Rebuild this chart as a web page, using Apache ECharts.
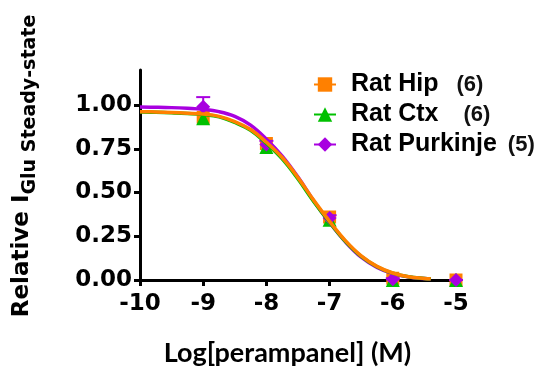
<!DOCTYPE html>
<html><head><meta charset="utf-8">
<script src="https://cdn.jsdelivr.net/npm/echarts@6/dist/echarts.min.js"></script>
<style>html,body{margin:0;padding:0;background:#fff}#c{width:538px;height:374px}</style>
</head><body><div id="c"></div>
<script>
// ---- data ----
const xTicks = [-10, -9, -8, -7, -6, -5];
const yTicks = [0, 0.25, 0.5, 0.75, 1.0];
const seriesNames = ['Rat Hip', 'Rat Ctx', 'Rat Purkinje'];
const nCounts = ['(6)', '(6)', '(5)'];
const doseX = [-9, -8, -7, -6, -5];
const hipVals = [0.93, 0.78, 0.36, 0.01, 0.0];
const ctxVals = [0.925, 0.76, 0.345, 0.0, 0.0];
const purkVals = [0.99, 0.775, 0.355, 0.005, 0.0];
const purkErr = [0.055, 0.02, 0.015, 0.005, 0.0];
const curveX = [-10, -9.75, -9.5, -9.25, -9, -8.75, -8.5, -8.25, -8, -7.75, -7.5, -7.25, -7, -6.75, -6.5, -6.25, -6, -5.75, -5.5, -5.4];
const hipCurve = [0.962, 0.960, 0.957, 0.953, 0.948, 0.935, 0.905, 0.86, 0.787, 0.70, 0.585, 0.455, 0.335, 0.225, 0.138, 0.078, 0.04, 0.019, 0.009, 0.007];
const ctxCurve = [0.960, 0.958, 0.955, 0.951, 0.945, 0.932, 0.90, 0.855, 0.78, 0.692, 0.577, 0.448, 0.33, 0.221, 0.135, 0.076, 0.039, 0.018, 0.009, 0.007];
const purkCurve = [0.988, 0.987, 0.985, 0.981, 0.975, 0.962, 0.935, 0.885, 0.805, 0.708, 0.588, 0.452, 0.328, 0.218, 0.13, 0.072, 0.036, 0.017, 0.008, 0.006];

// ---- style ----
const colors = ['#FF8000', '#00C000', '#A800E0'];
const symbols = ['rect', 'triangle', 'diamond'];
const F = 'DejaVu Sans';
const A = 'Liberation Sans';
const zip = (xs, ys) => xs.map((x, i) => [x, ys[i]]);

const chart = echarts.init(document.getElementById('c'), null, {renderer: 'canvas'});
const curveSets = [hipCurve, ctxCurve, purkCurve];
const pointSets = [hipVals, ctxVals, purkVals];
const series = [];
// curves (first, so legend uses them)
[2, 1, 0].forEach(i => {
  series.push({
    type: 'line', name: seriesNames[i], data: zip(curveX, curveSets[i]),
    smooth: 0.4, showSymbol: false, symbol: symbols[i], symbolSize: 14,
    lineStyle: {color: colors[i], width: 3.5}, itemStyle: {color: colors[i]},
    z: 5 + (2 - i), silent: true, animation: false
  });
});
// error bar (purkinje, upper)
series.push({
  type: 'custom', name: 'Rat Purkinje', z: 3, animation: false, silent: true,
  data: doseX.map((x, i) => [x, purkVals[i], purkVals[i] + purkErr[i]]),
  renderItem: (params, api) => {
    const p0 = api.coord([api.value(0), api.value(1)]);
    const p1 = api.coord([api.value(0), api.value(2)]);
    const st = {stroke: colors[2], lineWidth: 2};
    return {type: 'group', children: [
      {type: 'line', shape: {x1: p0[0], y1: p0[1], x2: p1[0], y2: p1[1]}, style: st},
      {type: 'line', shape: {x1: p1[0] - 7, y1: p1[1], x2: p1[0] + 7, y2: p1[1]}, style: st}
    ]};
  }
});
// points
[0, 1, 2].forEach(i => {
  series.push({
    type: 'scatter', name: seriesNames[i], data: zip(doseX, pointSets[i]),
    symbol: symbols[i], symbolSize: i === 0 ? 13 : 14,
    itemStyle: {color: colors[i], opacity: 1}, z: 2 + i * 0.1, animation: false, silent: true
  });
});

const padL = [18, 25, 11];
const rich = {};
nCounts.forEach((n, i) => { rich['n' + i] = {fontFamily: A, fontWeight: 'bold', fontSize: 22, color: '#111', padding: [0, 0, 0, padL[i]]}; });
rich.t = {fontFamily: A, fontWeight: 'bold', fontSize: 25, color: '#000'};

chart.setOption({
  animation: false,
  grid: {left: 140, right: 82, top: 70, bottom: 94},
  legend: {
    data: seriesNames, left: 308, top: 67, orient: 'vertical', itemGap: 5,
    itemWidth: 22, itemHeight: 18, selectedMode: false,
    textStyle: {rich: rich, padding: [0, 0, 0, 10]},
    formatter: name => { const i = seriesNames.indexOf(name); return '{t|' + name + '}{n' + i + '|' + nCounts[i] + '}'; }
  },
  xAxis: {
    type: 'value', min: -10, max: -5, interval: 1,
    splitLine: {show: false},
    axisLine: {lineStyle: {color: '#000', width: 3}},
    axisTick: {length: 6, lineStyle: {color: '#000', width: 3}, customValues: xTicks},
    axisLabel: {customValues: xTicks, fontFamily: F, fontWeight: 'bold', fontSize: 23, color: '#000', margin: 13},
    name: 'Log[perampanel] (M)', nameLocation: 'middle', nameGap: 60,
    nameTextStyle: {fontFamily: 'Lato', fontWeight: 'bold', fontSize: 27, color: '#000', padding: [0, 21, 0, 0]}
  },
  yAxis: {
    type: 'value', min: 0, max: 1.2, interval: 0.25,
    splitLine: {show: false},
    axisLine: {show: true, lineStyle: {color: '#000', width: 3}},
    axisTick: {show: true, length: 6, lineStyle: {color: '#000', width: 3}, customValues: yTicks},
    axisLabel: {customValues: yTicks, formatter: v => v.toFixed(2), fontFamily: F, fontWeight: 'bold', fontSize: 23, color: '#000', margin: 8},
    name: '{m|Relative I}{s|Glu Steady-state}', nameLocation: 'middle', nameRotate: 90, nameGap: 100,
    nameTextStyle: {rich: {
      m: {fontFamily: F, fontWeight: 'bold', fontSize: 23, color: '#000', verticalAlign: 'bottom', padding: [0, 0, 6, 18]},
      s: {fontFamily: F, fontWeight: 'bold', fontSize: 19, color: '#000', verticalAlign: 'bottom'}
    }}
  },
  series: series
});
</script></body></html>
